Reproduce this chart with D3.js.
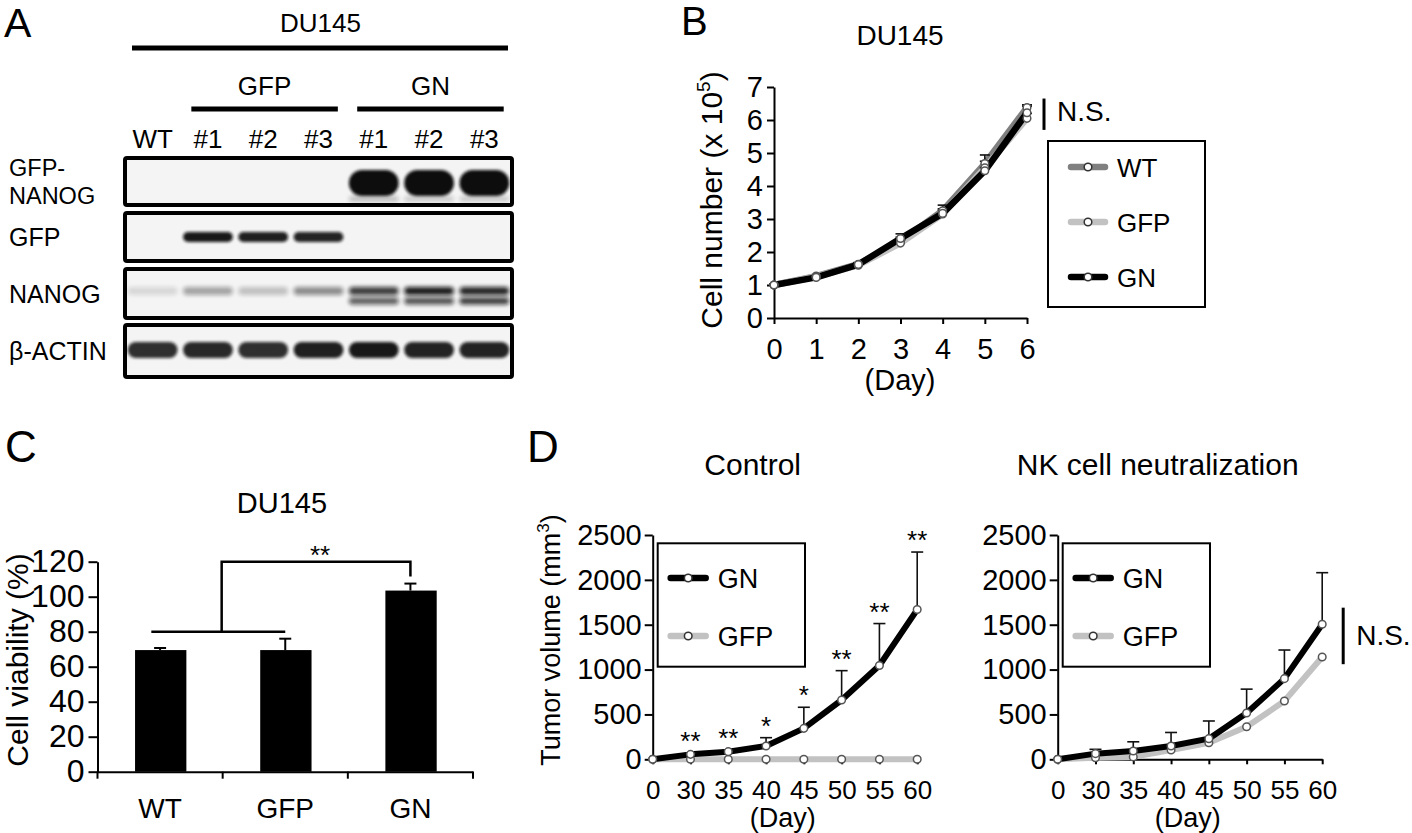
<!DOCTYPE html>
<html><head><meta charset="utf-8">
<script src="https://cdn.jsdelivr.net/npm/d3@7"></script>
<style>
body{margin:0;background:#fff}
svg{display:block;font-family:"Liberation Sans",Arial,Helvetica,sans-serif}
</style></head><body>
<svg id="fig" width="1412" height="833"></svg>
<script>
// ---------- Panel A : western blot ----------
const blotLanes = ["WT","#1","#2","#3","#1","#2","#3"];
const blotGroups = ["GFP","GN"];
const blotRowLabels = [["GFP-","NANOG"],["GFP"],["NANOG"],["β-ACTIN"]];
const bandGfpNanog      = [0,0,0,0,1,1,1];
const bandGfpNanogLower = [0,0,0,0,0.25,0.2,0.2];
const bandGfp           = [0,0.95,0.92,0.9,0,0,0];
const bandNanog         = [0.12,0.35,0.22,0.45,0.8,0.95,0.9];
const bandNanogLower    = [0,0,0,0,0.65,0.7,0.8];
const bandActin         = [0.85,0.88,0.85,0.92,0.95,0.9,0.9];

// ---------- Panel B : growth curve ----------
const bDays  = [0,1,2,3,4,5,6];
const bWT    = [1.0,1.27,1.63,2.33,3.25,4.68,6.38];
const bGFP   = [1.0,1.25,1.60,2.27,3.15,4.55,6.05];
const bGN    = [1.0,1.23,1.62,2.41,3.17,4.46,6.22];
const bWTerr = [0.02,0.04,0.05,0.12,0.17,0.26,0.08];
const bGFPerr= [0.02,0.03,0.04,0.10,0.12,0.20,0.15];
const bGNerr = [0.02,0.03,0.04,0.14,0.14,0.10,0.20];
const bYTicks = [0,1,2,3,4,5,6,7];
const bSeriesNames = ["WT","GFP","GN"];

// ---------- Panel C : viability ----------
const cCats   = ["WT","GFP","GN"];
const cValues = [69.5,69.5,103.5];
const cErr    = [1.2,6.5,4.0];
const cYTicks = [0,20,40,60,80,100,120];
const cBracket = {low:80, high:120, end:111.5, label:"**"};

// ---------- Panel D : tumor volume ----------
const dDays      = ["0","30","35","40","45","50","55","60"];
const dCtrlGN    = [0,55,85,148,345,661,1045,1669];
const dCtrlGNerr = [0,15,20,93,235,327,468,641];
const dCtrlGFP   = [0,0,0,0,0,0,0,0];
const dCtrlStars = ["","**","**","*","*","**","**","**"];
const dNkGN      = [0,63,92,148,230,516,899,1505];
const dNkGNerr   = [0,48,103,151,197,266,319,575];
const dNkGFP     = [0,18,27,104,185,363,649,1140];
const dYTicks    = [0,500,1000,1500,2000,2500];

const FONT = '"Liberation Sans",Arial,Helvetica,sans-serif';
const svg = d3.select("#fig");
svg.append("rect").attr("width",1412).attr("height",833).attr("fill","#fff");
const defs = svg.append("defs");
defs.append("filter").attr("id","blur").attr("x","-30%").attr("y","-60%").attr("width","160%").attr("height","220%")
  .append("feGaussianBlur").attr("stdDeviation",2.3);
defs.append("filter").attr("id","blur2").attr("x","-30%").attr("y","-60%").attr("width","160%").attr("height","220%")
  .append("feGaussianBlur").attr("stdDeviation",1.6);

function txt(g,x,y,s,size,anchor){
  return g.append("text").attr("x",x).attr("y",y).attr("font-size",size)
    .attr("text-anchor",anchor||"start").attr("fill","#000").attr("font-family",FONT).text(s);
}
function styleAxis(g,fs){
  g.attr("font-family",FONT).attr("font-size",fs);
  g.select(".domain").attr("stroke","#000").attr("stroke-width",2);
  g.selectAll(".tick line").attr("stroke","#000").attr("stroke-width",2);
  g.selectAll(".tick text").attr("fill","#000");
}

// ================= PANEL A =================
{
  const g = svg.append("g");
  txt(g,4,37,"A",41);
  const lx = d3.scaleBand().domain(d3.range(blotLanes.length)).range([125,512]);
  const bw = lx.bandwidth();
  const cx = i => lx(i)+bw/2;
  txt(g,(lx(0)+bw*0.1+lx(6)+bw*0.9)/2+2,32,"DU145",26,"middle");
  g.append("line").attr("x1",132).attr("x2",508).attr("y1",48).attr("y2",48).attr("stroke","#000").attr("stroke-width",5);
  [[1,3],[4,6]].forEach((r,k)=>{
    const x1 = lx(r[0])+bw*0.2, x2 = lx(r[1])+bw*0.85;
    g.append("line").attr("x1",x1).attr("x2",x2).attr("y1",109).attr("y2",109).attr("stroke","#000").attr("stroke-width",5);
    txt(g,(x1+x2)/2,95,blotGroups[k],26,"middle");
  });
  blotLanes.forEach((l,i)=>txt(g,cx(i),148,l,26,"middle"));
  const rows = [
    {y0:158,y1:205, bands:[{off:25,h:26,v:bandGfpNanog,b:"blur2"},{off:41,h:5,v:bandGfpNanogLower,b:"blur"}]},
    {y0:213,y1:261, bands:[{off:24,h:10,v:bandGfp,b:"blur2"}]},
    {y0:269,y1:318, bands:[{off:22,h:8,v:bandNanog,b:"blur"},{off:32,h:7,v:bandNanogLower,b:"blur"}]},
    {y0:325,y1:377, bands:[{off:25,h:16,v:bandActin,b:"blur2"}]}
  ];
  rows.forEach((r,ri)=>{
    g.append("rect").attr("x",lx.range()[0]).attr("y",r.y0).attr("width",lx.range()[1]-lx.range()[0])
      .attr("height",r.y1-r.y0).attr("fill","#f4f4f4");
    r.bands.forEach(b=>{
      g.selectAll(null).data(b.v).enter().append("rect")
        .attr("x",(d,i)=>cx(i)-bw*0.45).attr("width",bw*0.9)
        .attr("y",r.y0+b.off-b.h/2).attr("height",b.h).attr("rx",b.h/2)
        .attr("fill","#111").attr("opacity",d=>d).attr("filter","url(#"+b.b+")");
    });
    g.append("rect").attr("x",lx.range()[0]).attr("y",r.y0).attr("width",lx.range()[1]-lx.range()[0])
      .attr("height",r.y1-r.y0).attr("fill","none").attr("stroke","#000").attr("stroke-width",4).attr("rx",2);
    const lab = blotRowLabels[ri];
    if(lab.length===2){
      txt(g,9,176,lab[0],23.5);
      txt(g,9,203.5,lab[1],23.5);
    }
    else txt(g,9,(r.y0+r.y1)/2+9,lab[0],25);
  });
}

// ================= helpers for line charts =================
function drawSeries(g,x,y,xs,vals,errs,color,width,capW){
  const line = d3.line().x((d,i)=>x(xs[i])).y(d=>y(d));
  g.append("path").datum(vals).attr("d",line).attr("fill","none").attr("stroke",color)
    .attr("stroke-width",width).attr("stroke-linejoin","round");
  if(errs){
    const eg = g.append("g").attr("stroke","#111").attr("stroke-width",1.6);
    vals.forEach((v,i)=>{
      if(!errs[i]) return;
      eg.append("line").attr("x1",x(xs[i])).attr("x2",x(xs[i])).attr("y1",y(v)).attr("y2",y(v+errs[i]));
      eg.append("line").attr("x1",x(xs[i])-capW/2).attr("x2",x(xs[i])+capW/2).attr("y1",y(v+errs[i])).attr("y2",y(v+errs[i]));
    });
  }
}
function drawMarkers(g,x,y,xs,vals){
  g.selectAll(null).data(vals).enter().append("circle")
    .attr("cx",(d,i)=>x(xs[i])).attr("cy",d=>y(d)).attr("r",3.8)
    .attr("fill","#fff").attr("stroke","#555").attr("stroke-width",1.5);
}
function legendEntry(g,x1,x2,yy,color,label,fs){
  g.append("line").attr("x1",x1).attr("x2",x2).attr("y1",yy).attr("y2",yy)
    .attr("stroke",color).attr("stroke-width",6.5).attr("stroke-linecap","round");
  g.append("circle").attr("cx",(x1+x2)/2).attr("cy",yy).attr("r",3.8).attr("fill","#fff").attr("stroke","#333").attr("stroke-width",1.5);
  txt(g,x2+12,yy+9.5,label,fs);
}

// ================= PANEL B =================
{
  const g = svg.append("g");
  txt(g,681,35,"B",40);
  const x = d3.scaleLinear().domain([0,6]).range([774,1027]);
  const y = d3.scaleLinear().domain([0,7]).range([318,87]);
  txt(g,900,45,"DU145",28,"middle");
  const ya = g.append("g").attr("transform","translate(774,0)")
    .call(d3.axisLeft(y).tickValues(bYTicks).tickSize(7).tickSizeOuter(0).tickPadding(4).tickFormat(d3.format("d")));
  styleAxis(ya,29);
  const xa = g.append("g").attr("transform","translate(0,318)")
    .call(d3.axisBottom(x).tickValues(bDays).tickSize(6).tickSizeOuter(0).tickPadding(14).tickFormat(d3.format("d")));
  styleAxis(xa,29);
  txt(g,900,390,"(Day)",29,"middle");
  const t = g.append("text").attr("transform","translate(722,200) rotate(-90)").attr("text-anchor","middle")
    .attr("font-size",30).attr("font-family",FONT);
  t.append("tspan").text("Cell number (x 10");
  t.append("tspan").attr("dy",-12).attr("font-size",19).text("5");
  t.append("tspan").attr("dy",12).text(")");
  const cols = {WT:"#808080",GFP:"#c2c2c2",GN:"#000"};
  const vals = {WT:bWT,GFP:bGFP,GN:bGN}, errs = {WT:bWTerr,GFP:bGFPerr,GN:bGNerr};
  bSeriesNames.forEach(s=>drawSeries(g,x,y,bDays,vals[s],errs[s],cols[s],6.5,10));
  bSeriesNames.forEach(s=>drawMarkers(g,x,y,bDays,vals[s]));
  g.append("line").attr("x1",1044).attr("x2",1044).attr("y1",y(6.65)).attr("y2",y(5.7)).attr("stroke","#000").attr("stroke-width",3);
  txt(g,1057,121,"N.S.",28);
  g.append("rect").attr("x",1048).attr("y",141).attr("width",157).attr("height",166).attr("fill","#fff").attr("stroke","#000").attr("stroke-width",2);
  bSeriesNames.forEach((s,i)=>legendEntry(g,1071,1105,167+i*55,cols[s],s,26));
}

// ================= PANEL C =================
{
  const g = svg.append("g");
  txt(g,5,462,"C",44);
  const x = d3.scaleBand().domain(cCats).range([97.5,473]);
  const bw = x.bandwidth();
  const y = d3.scaleLinear().domain([0,120]).range([771.7,561.7]);
  txt(g,282,513,"DU145",29,"middle");
  g.selectAll(null).data(cValues).enter().append("rect")
    .attr("x",(d,i)=>x(cCats[i])+bw*0.3).attr("width",bw*0.41)
    .attr("y",d=>y(d)).attr("height",d=>y(0)-y(d)).attr("fill","#000");
  cValues.forEach((v,i)=>{
    const cxp = x(cCats[i])+bw*0.5;
    g.append("line").attr("x1",cxp).attr("x2",cxp).attr("y1",y(v)).attr("y2",y(v+cErr[i])).attr("stroke","#000").attr("stroke-width",2);
    g.append("line").attr("x1",cxp-6).attr("x2",cxp+6).attr("y1",y(v+cErr[i])).attr("y2",y(v+cErr[i])).attr("stroke","#000").attr("stroke-width",2);
  });
  const ya = g.append("g").attr("transform","translate(97.5,0)")
    .call(d3.axisLeft(y).tickValues(cYTicks).tickSize(9).tickSizeOuter(0).tickPadding(4));
  styleAxis(ya,32);
  const xa = g.append("g").attr("transform","translate(0,771.7)")
    .call(d3.axisBottom(x).tickSize(0).tickSizeOuter(0).tickPadding(26));
  styleAxis(xa,28);
  const edges = cCats.map(c=>x(c)).concat([x.range()[1]]);
  g.selectAll(null).data(edges).enter().append("line").attr("x1",d=>d).attr("x2",d=>d)
    .attr("y1",771.7).attr("y2",778.7).attr("stroke","#000").attr("stroke-width",2);
  g.append("text").attr("transform","translate(27.5,660) rotate(-90)").attr("text-anchor","middle")
    .attr("font-size",30).attr("font-family",FONT).text("Cell viability (%)");
  const bx0 = x("WT")+bw*0.43, bx1 = x("GFP")+bw*0.5, bxm = x("GFP")-1, bxr = x("GN")+bw*0.5;
  const bg = g.append("g").attr("stroke","#000").attr("stroke-width",2.5).attr("fill","none");
  bg.append("line").attr("x1",bx0).attr("x2",bx1).attr("y1",y(cBracket.low)).attr("y2",y(cBracket.low));
  bg.append("path").attr("d",`M${bxm},${y(cBracket.low)}V${y(cBracket.high)}H${bxr}V${y(cBracket.end)}`);
  txt(g,(bxm+bxr)/2+4,564,cBracket.label,26,"middle");
}

// ================= PANEL D =================
function tumorPanel(x0,gn,gnErr,gfp,stars,title,showYTitle,ns){
  const g = svg.append("g");
  const x = d3.scalePoint().domain(dDays).range([x0,x0+264.5]);
  const y = d3.scaleLinear().domain([0,2500]).range([759.3,535]);
  txt(g,x0+100,475,title,30,"middle");
  const ya = g.append("g").attr("transform",`translate(${x0},0)`)
    .call(d3.axisLeft(y).tickValues(dYTicks).tickSize(8).tickSizeOuter(0).tickPadding(3).tickFormat(d3.format("d")));
  styleAxis(ya,29);
  const xa = g.append("g").attr("transform","translate(0,759.3)")
    .call(d3.axisBottom(x).tickSize(5).tickSizeOuter(0).tickPadding(16));
  styleAxis(xa,26);
  txt(g,x0+130,827,"(Day)",27,"middle");
  if(showYTitle){
    const t = g.append("text").attr("transform","translate(560,640) rotate(-90)").attr("text-anchor","middle")
      .attr("font-size",27).attr("font-family",FONT);
    t.append("tspan").text("Tumor volume (mm");
    t.append("tspan").attr("dy",-11).attr("font-size",17).text("3");
    t.append("tspan").attr("dy",11).text(")");
  }
  drawSeries(g,x,y,dDays,gfp,null,"#c2c2c2",6,12);
  drawSeries(g,x,y,dDays,gn,gnErr,"#000",6,12);
  drawMarkers(g,x,y,dDays,gfp);
  drawMarkers(g,x,y,dDays,gn);
  if(stars){
    stars.forEach((s,i)=>{
      if(!s) return;
      txt(g,x(dDays[i]),y(gn[i]+gnErr[i])-3,s,26,"middle");
    });
  }
  if(ns){
    g.append("line").attr("x1",x0+285.5).attr("x2",x0+285.5).attr("y1",y(1690)).attr("y2",y(1060)).attr("stroke","#000").attr("stroke-width",3);
    txt(g,x0+298.5,645,"N.S.",28);
  }
  g.append("rect").attr("x",x0+5).attr("y",543.3).attr("width",147.3).attr("height",123.4).attr("fill","#fff").attr("stroke","#000").attr("stroke-width",2);
  legendEntry(g,x0+18,x0+53,578,"#000","GN",27);
  legendEntry(g,x0+18,x0+53,636,"#c2c2c2","GFP",27);
}
txt(svg,527,462,"D",44);
tumorPanel(652.7,dCtrlGN,dCtrlGNerr,dCtrlGFP,dCtrlStars,"Control",true,false);
tumorPanel(1057.7,dNkGN,dNkGNerr,dNkGFP,null,"NK cell neutralization",false,true);
</script>
</body></html>
